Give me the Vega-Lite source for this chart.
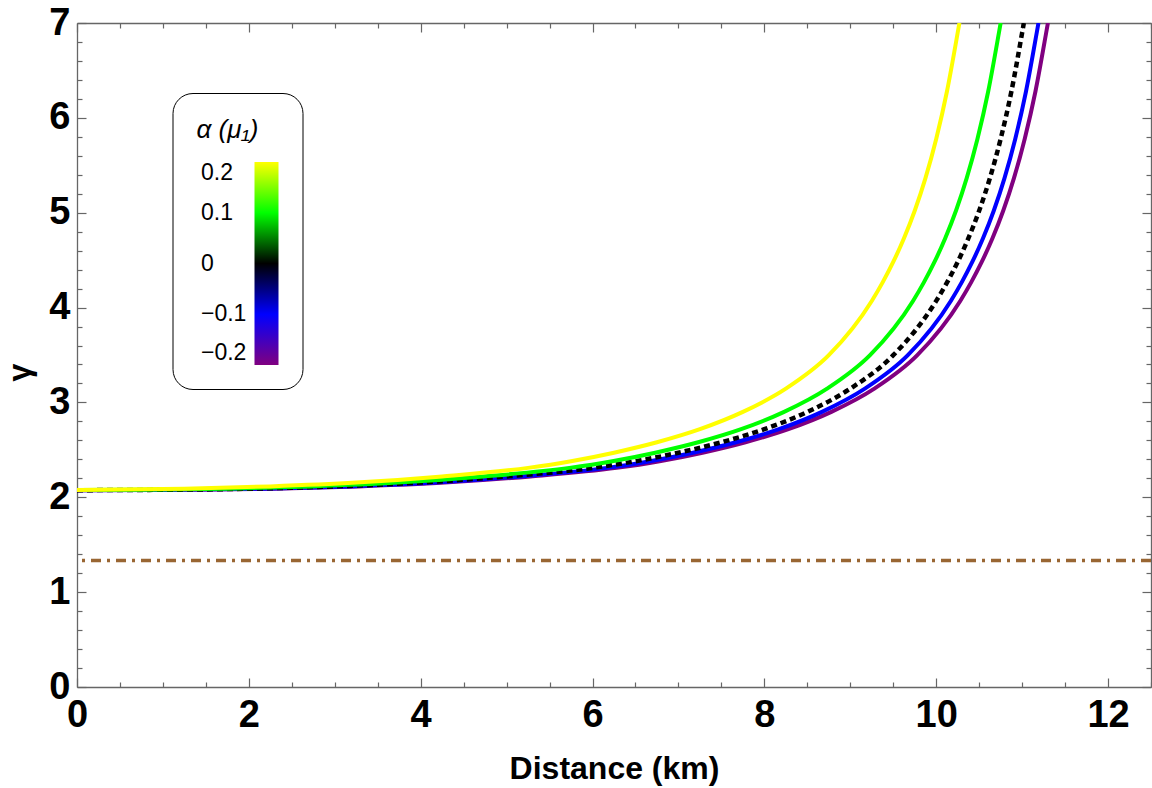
{
  "$schema": "https://vega.github.io/schema/vega-lite/v6.json",
  "width": 1074,
  "height": 664,
  "autosize": {"type": "none"},
  "padding": {"left": 77, "top": 23, "right": 1, "bottom": 101},
  "datasets": {
    "curves": [
      {"alpha": -0.2, "distance": 0, "gamma": 2.075},
      {"alpha": -0.2, "distance": 1.28, "gamma": 2.079},
      {"alpha": -0.2, "distance": 2.28, "gamma": 2.09},
      {"alpha": -0.2, "distance": 3.28, "gamma": 2.115},
      {"alpha": -0.2, "distance": 4.28, "gamma": 2.155},
      {"alpha": -0.2, "distance": 5.28, "gamma": 2.22},
      {"alpha": -0.2, "distance": 6.28, "gamma": 2.31},
      {"alpha": -0.2, "distance": 6.78, "gamma": 2.38},
      {"alpha": -0.2, "distance": 7.28, "gamma": 2.47},
      {"alpha": -0.2, "distance": 7.78, "gamma": 2.58},
      {"alpha": -0.2, "distance": 8.28, "gamma": 2.718},
      {"alpha": -0.2, "distance": 8.78, "gamma": 2.9},
      {"alpha": -0.2, "distance": 9.28, "gamma": 3.145},
      {"alpha": -0.2, "distance": 9.78, "gamma": 3.498},
      {"alpha": -0.2, "distance": 10.28, "gamma": 4.07},
      {"alpha": -0.2, "distance": 10.405, "gamma": 4.263},
      {"alpha": -0.2, "distance": 10.53, "gamma": 4.481},
      {"alpha": -0.2, "distance": 10.655, "gamma": 4.731},
      {"alpha": -0.2, "distance": 10.78, "gamma": 5.021},
      {"alpha": -0.2, "distance": 10.905, "gamma": 5.365},
      {"alpha": -0.2, "distance": 11.03, "gamma": 5.778},
      {"alpha": -0.2, "distance": 11.155, "gamma": 6.278},
      {"alpha": -0.2, "distance": 11.28, "gamma": 6.897},
      {"alpha": -0.2, "distance": 11.3, "gamma": 7.0},
      {"alpha": -0.1, "distance": 0, "gamma": 2.075},
      {"alpha": -0.1, "distance": 1.17, "gamma": 2.079},
      {"alpha": -0.1, "distance": 2.17, "gamma": 2.09},
      {"alpha": -0.1, "distance": 3.17, "gamma": 2.115},
      {"alpha": -0.1, "distance": 4.17, "gamma": 2.155},
      {"alpha": -0.1, "distance": 5.17, "gamma": 2.22},
      {"alpha": -0.1, "distance": 6.17, "gamma": 2.31},
      {"alpha": -0.1, "distance": 6.67, "gamma": 2.38},
      {"alpha": -0.1, "distance": 7.17, "gamma": 2.47},
      {"alpha": -0.1, "distance": 7.67, "gamma": 2.58},
      {"alpha": -0.1, "distance": 8.17, "gamma": 2.718},
      {"alpha": -0.1, "distance": 8.67, "gamma": 2.9},
      {"alpha": -0.1, "distance": 9.17, "gamma": 3.145},
      {"alpha": -0.1, "distance": 9.67, "gamma": 3.498},
      {"alpha": -0.1, "distance": 10.17, "gamma": 4.07},
      {"alpha": -0.1, "distance": 10.295, "gamma": 4.263},
      {"alpha": -0.1, "distance": 10.42, "gamma": 4.481},
      {"alpha": -0.1, "distance": 10.545, "gamma": 4.731},
      {"alpha": -0.1, "distance": 10.67, "gamma": 5.021},
      {"alpha": -0.1, "distance": 10.795, "gamma": 5.365},
      {"alpha": -0.1, "distance": 10.92, "gamma": 5.778},
      {"alpha": -0.1, "distance": 11.045, "gamma": 6.278},
      {"alpha": -0.1, "distance": 11.17, "gamma": 6.897},
      {"alpha": -0.1, "distance": 11.19, "gamma": 7.0},
      {"alpha": 0, "distance": 0, "gamma": 2.075},
      {"alpha": 0, "distance": 1, "gamma": 2.079},
      {"alpha": 0, "distance": 2, "gamma": 2.09},
      {"alpha": 0, "distance": 3, "gamma": 2.115},
      {"alpha": 0, "distance": 4, "gamma": 2.155},
      {"alpha": 0, "distance": 5, "gamma": 2.22},
      {"alpha": 0, "distance": 6, "gamma": 2.31},
      {"alpha": 0, "distance": 6.5, "gamma": 2.38},
      {"alpha": 0, "distance": 7, "gamma": 2.47},
      {"alpha": 0, "distance": 7.5, "gamma": 2.58},
      {"alpha": 0, "distance": 8, "gamma": 2.718},
      {"alpha": 0, "distance": 8.5, "gamma": 2.9},
      {"alpha": 0, "distance": 9, "gamma": 3.145},
      {"alpha": 0, "distance": 9.5, "gamma": 3.498},
      {"alpha": 0, "distance": 10, "gamma": 4.07},
      {"alpha": 0, "distance": 10.125, "gamma": 4.263},
      {"alpha": 0, "distance": 10.25, "gamma": 4.481},
      {"alpha": 0, "distance": 10.375, "gamma": 4.731},
      {"alpha": 0, "distance": 10.5, "gamma": 5.021},
      {"alpha": 0, "distance": 10.625, "gamma": 5.365},
      {"alpha": 0, "distance": 10.75, "gamma": 5.778},
      {"alpha": 0, "distance": 10.875, "gamma": 6.278},
      {"alpha": 0, "distance": 11, "gamma": 6.897},
      {"alpha": 0, "distance": 11.02, "gamma": 7.0},
      {"alpha": 0.1, "distance": 0, "gamma": 2.076},
      {"alpha": 0.1, "distance": 0.73, "gamma": 2.079},
      {"alpha": 0.1, "distance": 1.73, "gamma": 2.09},
      {"alpha": 0.1, "distance": 2.73, "gamma": 2.115},
      {"alpha": 0.1, "distance": 3.73, "gamma": 2.155},
      {"alpha": 0.1, "distance": 4.73, "gamma": 2.22},
      {"alpha": 0.1, "distance": 5.73, "gamma": 2.31},
      {"alpha": 0.1, "distance": 6.23, "gamma": 2.38},
      {"alpha": 0.1, "distance": 6.73, "gamma": 2.47},
      {"alpha": 0.1, "distance": 7.23, "gamma": 2.58},
      {"alpha": 0.1, "distance": 7.73, "gamma": 2.718},
      {"alpha": 0.1, "distance": 8.23, "gamma": 2.9},
      {"alpha": 0.1, "distance": 8.73, "gamma": 3.145},
      {"alpha": 0.1, "distance": 9.23, "gamma": 3.498},
      {"alpha": 0.1, "distance": 9.73, "gamma": 4.07},
      {"alpha": 0.1, "distance": 9.855, "gamma": 4.263},
      {"alpha": 0.1, "distance": 9.98, "gamma": 4.481},
      {"alpha": 0.1, "distance": 10.105, "gamma": 4.731},
      {"alpha": 0.1, "distance": 10.23, "gamma": 5.021},
      {"alpha": 0.1, "distance": 10.355, "gamma": 5.365},
      {"alpha": 0.1, "distance": 10.48, "gamma": 5.778},
      {"alpha": 0.1, "distance": 10.605, "gamma": 6.278},
      {"alpha": 0.1, "distance": 10.73, "gamma": 6.897},
      {"alpha": 0.1, "distance": 10.75, "gamma": 7.0},
      {"alpha": 0.2, "distance": 0, "gamma": 2.078},
      {"alpha": 0.2, "distance": 0.25, "gamma": 2.079},
      {"alpha": 0.2, "distance": 1.25, "gamma": 2.09},
      {"alpha": 0.2, "distance": 2.25, "gamma": 2.115},
      {"alpha": 0.2, "distance": 3.25, "gamma": 2.155},
      {"alpha": 0.2, "distance": 4.25, "gamma": 2.22},
      {"alpha": 0.2, "distance": 5.25, "gamma": 2.31},
      {"alpha": 0.2, "distance": 5.75, "gamma": 2.38},
      {"alpha": 0.2, "distance": 6.25, "gamma": 2.47},
      {"alpha": 0.2, "distance": 6.75, "gamma": 2.58},
      {"alpha": 0.2, "distance": 7.25, "gamma": 2.718},
      {"alpha": 0.2, "distance": 7.75, "gamma": 2.9},
      {"alpha": 0.2, "distance": 8.25, "gamma": 3.145},
      {"alpha": 0.2, "distance": 8.75, "gamma": 3.498},
      {"alpha": 0.2, "distance": 9.25, "gamma": 4.07},
      {"alpha": 0.2, "distance": 9.375, "gamma": 4.263},
      {"alpha": 0.2, "distance": 9.5, "gamma": 4.481},
      {"alpha": 0.2, "distance": 9.625, "gamma": 4.731},
      {"alpha": 0.2, "distance": 9.75, "gamma": 5.021},
      {"alpha": 0.2, "distance": 9.875, "gamma": 5.365},
      {"alpha": 0.2, "distance": 10, "gamma": 5.778},
      {"alpha": 0.2, "distance": 10.125, "gamma": 6.278},
      {"alpha": 0.2, "distance": 10.25, "gamma": 6.897},
      {"alpha": 0.2, "distance": 10.27, "gamma": 7.0}
    ],
    "adiabatic": [{"gamma": 1.3333}]
  },
  "layer": [
    {
      "data": {"name": "curves"},
      "transform": [{"filter": "datum.alpha < 0"}],
      "mark": {"type": "line", "strokeWidth": 4, "interpolate": "monotone", "clip": true},
      "encoding": {
        "x": {
          "field": "distance",
          "type": "quantitative",
          "scale": {"domain": [0, 12.5], "nice": false},
          "axis": {
            "orient": "bottom",
            "values": [0, 2, 4, 6, 8, 10, 12],
            "format": "~g",
            "tickSize": -9,
            "labelPadding": 18,
            "labelFlush": false,
            "labelOverlap": false,
            "title": "Distance (km)",
            "titlePadding": 19
          }
        },
        "y": {
          "field": "gamma",
          "type": "quantitative",
          "scale": {"domain": [0, 7], "nice": false},
          "axis": {
            "orient": "left",
            "values": [0, 1, 2, 3, 4, 5, 6, 7],
            "format": "~g",
            "tickSize": -9,
            "labelPadding": 16,
            "labelOverlap": false,
            "labelFlush": false,
            "title": "γ",
            "titleX": -58,
            "titleY": 349,
            "titleAlign": "center",
            "titleBaseline": "middle"
          }
        },
        "color": {
          "field": "alpha",
          "type": "quantitative",
          "scale": {
            "type": "linear",
            "domain": [-0.2, -0.1, 0, 0.1, 0.2],
            "range": ["#800080", "#0000ff", "#000000", "#00ff00", "#ffff00"],
            "interpolate": "rgb"
          },
          "legend": {
            "orient": "none",
            "legendX": 95.5,
            "legendY": 70,
            "direction": "vertical",
            "gradientLength": 203,
            "gradientThickness": 24,
            "gradientStrokeWidth": 0,
            "values": [-0.2, -0.1, 0, 0.1, 0.2],
            "format": ".1~f",
            "labelAlign": "right",
            "labelOffset": -19.5,
            "labelFont": "Liberation Sans",
            "labelFontSize": 23,
            "labelColor": "black",
            "title": " α (μ₁)",
            "titleFont": "Liberation Sans",
            "titleFontSize": 26,
            "titleFontWeight": "normal",
            "titleFontStyle": "italic",
            "titleColor": "black",
            "titleAnchor": "start",
            "titleAlign": "left",
            "titlePadding": 19,
            "padding": 24,
            "strokeColor": "black",
            "cornerRadius": 20,
            "fillColor": "white",
            "encode": {
              "gradient": {"update": {"x": {"value": 58}}},
              "legend": {"update": {"height": {"value": 325}}}
            }
          }
        },
        "detail": {"field": "alpha"}
      }
    },
    {
      "data": {"name": "curves"},
      "transform": [{"filter": "datum.alpha === 0"}],
      "mark": {"type": "line", "strokeWidth": 4.5, "strokeDash": [6, 4], "interpolate": "monotone", "clip": true},
      "encoding": {
        "x": {
          "field": "distance",
          "type": "quantitative",
          "axis": {
            "orient": "bottom",
            "values": [0.5, 1, 1.5, 2.5, 3, 3.5, 4.5, 5, 5.5, 6.5, 7, 7.5, 8.5, 9, 9.5, 10.5, 11, 11.5, 12.5],
            "tickSize": -5,
            "labels": false,
            "domain": false,
            "title": null
          }
        },
        "y": {
          "field": "gamma",
          "type": "quantitative",
          "axis": {
            "orient": "left",
            "values": [0.2, 0.4, 0.6, 0.8, 1.2, 1.4, 1.6, 1.8, 2.2, 2.4, 2.6, 2.8, 3.2, 3.4, 3.6, 3.8, 4.2, 4.4, 4.6, 4.8, 5.2, 5.4, 5.6, 5.8, 6.2, 6.4, 6.6, 6.8],
            "tickSize": -5,
            "labels": false,
            "domain": false,
            "title": null
          }
        },
        "color": {"field": "alpha", "type": "quantitative", "title": " α (μ₁)"}
      }
    },
    {
      "data": {"name": "curves"},
      "transform": [{"filter": "datum.alpha > 0 && datum.alpha < 0.15"}],
      "mark": {"type": "line", "strokeWidth": 4, "interpolate": "monotone", "clip": true},
      "encoding": {
        "x": {
          "field": "distance",
          "type": "quantitative",
          "axis": {
            "orient": "top",
            "values": [0, 2, 4, 6, 8, 10, 12],
            "tickSize": -9,
            "labels": false,
            "title": null
          }
        },
        "y": {
          "field": "gamma",
          "type": "quantitative",
          "axis": {
            "orient": "right",
            "values": [0, 1, 2, 3, 4, 5, 6, 7],
            "tickSize": -9,
            "labels": false,
            "title": null
          }
        },
        "color": {"field": "alpha", "type": "quantitative", "title": " α (μ₁)"}
      }
    },
    {
      "data": {"name": "curves"},
      "transform": [{"filter": "datum.alpha > 0.15"}],
      "mark": {"type": "line", "strokeWidth": 4, "interpolate": "monotone", "clip": true},
      "encoding": {
        "x": {
          "field": "distance",
          "type": "quantitative",
          "axis": {
            "orient": "top",
            "values": [0.5, 1, 1.5, 2.5, 3, 3.5, 4.5, 5, 5.5, 6.5, 7, 7.5, 8.5, 9, 9.5, 10.5, 11, 11.5, 12.5],
            "tickSize": -5,
            "labels": false,
            "domain": false,
            "title": null
          }
        },
        "y": {
          "field": "gamma",
          "type": "quantitative",
          "axis": {
            "orient": "right",
            "values": [0.2, 0.4, 0.6, 0.8, 1.2, 1.4, 1.6, 1.8, 2.2, 2.4, 2.6, 2.8, 3.2, 3.4, 3.6, 3.8, 4.2, 4.4, 4.6, 4.8, 5.2, 5.4, 5.6, 5.8, 6.2, 6.4, 6.6, 6.8],
            "tickSize": -5,
            "labels": false,
            "domain": false,
            "title": null
          }
        },
        "color": {"field": "alpha", "type": "quantitative", "title": " α (μ₁)"}
      }
    },
    {
      "data": {"name": "adiabatic"},
      "mark": {"type": "rule", "color": "#996633", "strokeWidth": 3.5, "strokeDash": [10, 6, 3, 6]},
      "encoding": {
        "y": {"field": "gamma", "type": "quantitative", "axis": null}
      }
    }
  ],
  "resolve": {"axis": {"x": "independent", "y": "independent"}},
  "config": {
    "view": {"stroke": null},
    "axis": {
      "grid": false,
      "domainColor": "#666666",
      "domainWidth": 1.3,
      "tickColor": "#666666",
      "tickWidth": 1.2,
      "labelFont": "Liberation Sans",
      "labelFontWeight": "bold",
      "labelFontSize": 38,
      "labelColor": "black",
      "titleFont": "Liberation Sans",
      "titleFontWeight": "bold",
      "titleFontSize": 32,
      "titleColor": "black"
    }
  }
}
